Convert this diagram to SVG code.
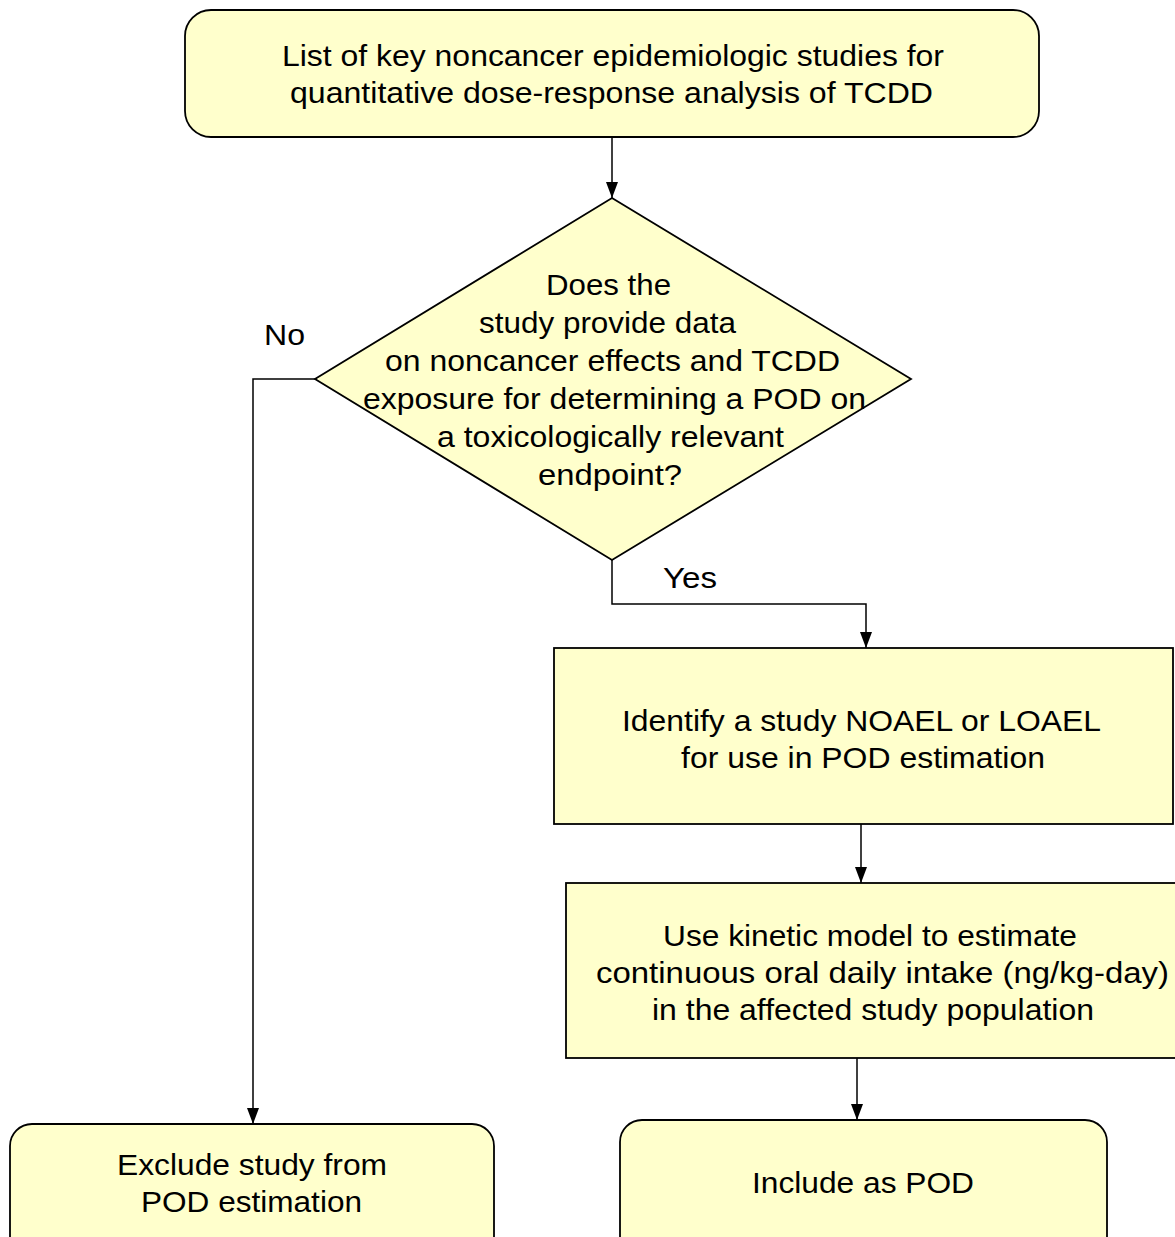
<svg xmlns="http://www.w3.org/2000/svg" width="1175" height="1237" viewBox="0 0 1175 1237">
<style>
.box{fill:#FFFFCC;stroke:#000;stroke-width:1.8}
.t{font-family:"Liberation Sans",Arial,sans-serif;font-size:30px;fill:#000;text-anchor:middle}
.c{fill:none;stroke:#000;stroke-width:1.5}
</style>
<defs>
<marker id="ah" viewBox="0 0 16 12" refX="16" refY="6" markerWidth="16" markerHeight="12" markerUnits="userSpaceOnUse" orient="auto">
<path d="M0,0 L16,6 L0,12 z" fill="#000"/>
</marker>
</defs>
<rect width="1175" height="1237" fill="#fff"/>
<g id="connectors">
<path class="c" d="M612,137 V198" marker-end="url(#ah)"/>
<path class="c" d="M315,379 H253 V1124" marker-end="url(#ah)"/>
<path class="c" d="M612,560 V604 H866 V648" marker-end="url(#ah)"/>
<path class="c" d="M861,824 V883" marker-end="url(#ah)"/>
<path class="c" d="M857,1058 V1120" marker-end="url(#ah)"/>
<text class="t" x="284.5" y="345" textLength="41" lengthAdjust="spacingAndGlyphs">No</text>
<text class="t" x="690" y="588" textLength="54" lengthAdjust="spacingAndGlyphs">Yes</text>
</g>
<g id="start">
<rect class="box" x="185" y="10" width="854" height="127" rx="26"/>
<text class="t" x="613" y="66" textLength="662" lengthAdjust="spacingAndGlyphs">List of key noncancer epidemiologic studies for</text>
<text class="t" x="611.5" y="103" textLength="643" lengthAdjust="spacingAndGlyphs">quantitative dose-response analysis of TCDD</text>
</g>
<g id="decision">
<polygon class="box" points="612,198 911,379 612,560 315,379"/>
<text class="t" x="608.5" y="295" textLength="125" lengthAdjust="spacingAndGlyphs">Does the</text>
<text class="t" x="607.5" y="333" textLength="257" lengthAdjust="spacingAndGlyphs">study provide data</text>
<text class="t" x="612.5" y="371" textLength="455" lengthAdjust="spacingAndGlyphs">on noncancer effects and TCDD</text>
<text class="t" x="614.5" y="409" textLength="503" lengthAdjust="spacingAndGlyphs">exposure for determining a POD on</text>
<text class="t" x="610.5" y="447" textLength="347" lengthAdjust="spacingAndGlyphs">a toxicologically relevant</text>
<text class="t" x="610" y="485" textLength="144" lengthAdjust="spacingAndGlyphs">endpoint?</text>
</g>
<g id="identify">
<rect class="box" x="554" y="648" width="619" height="176"/>
<text class="t" x="861.5" y="731" textLength="479" lengthAdjust="spacingAndGlyphs">Identify a study NOAEL or LOAEL</text>
<text class="t" x="863" y="768" textLength="364" lengthAdjust="spacingAndGlyphs">for use in POD estimation</text>
</g>
<g id="kinetic">
<rect class="box" x="566" y="883" width="612" height="175"/>
<text class="t" x="870" y="946" textLength="414" lengthAdjust="spacingAndGlyphs">Use kinetic model to estimate</text>
<text class="t" x="882.5" y="983" textLength="573" lengthAdjust="spacingAndGlyphs">continuous oral daily intake (ng/kg-day)</text>
<text class="t" x="873" y="1020" textLength="442" lengthAdjust="spacingAndGlyphs">in the affected study population</text>
</g>
<g id="exclude">
<rect class="box" x="10" y="1124" width="484" height="140" rx="22"/>
<text class="t" x="252" y="1175" textLength="270" lengthAdjust="spacingAndGlyphs">Exclude study from</text>
<text class="t" x="251.5" y="1212" textLength="221" lengthAdjust="spacingAndGlyphs">POD estimation</text>
</g>
<g id="include">
<rect class="box" x="620" y="1120" width="487" height="140" rx="22"/>
<text class="t" x="863" y="1193" textLength="222" lengthAdjust="spacingAndGlyphs">Include as POD</text>
</g>
</svg>
